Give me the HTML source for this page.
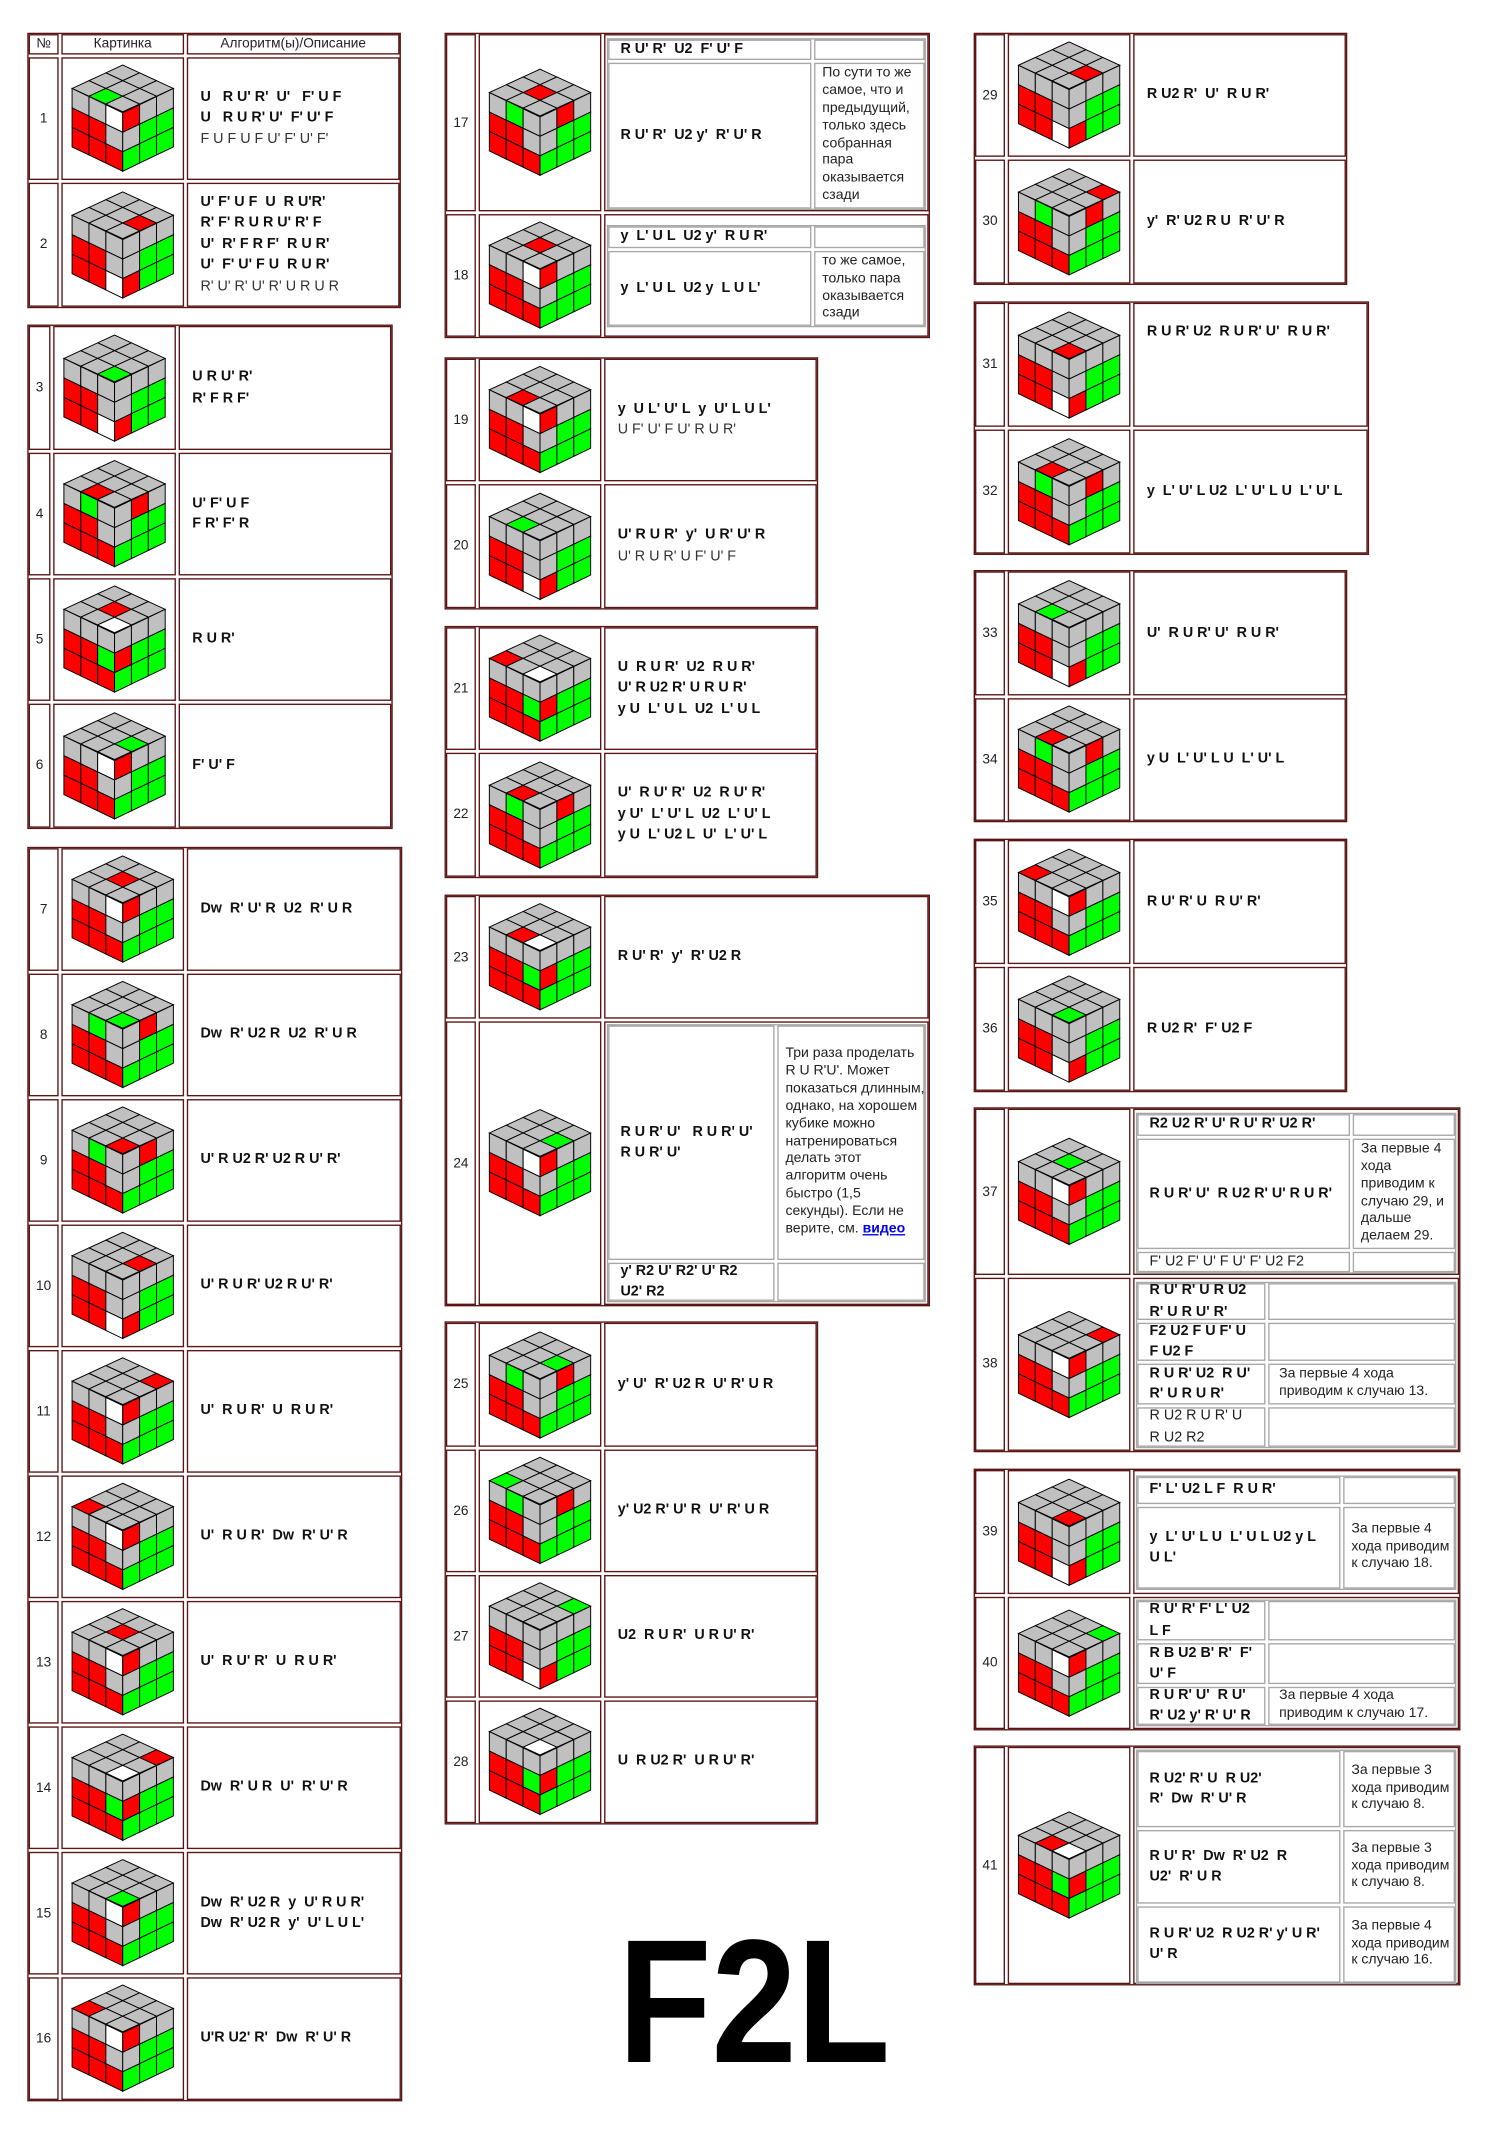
<!DOCTYPE html>
<html><head><meta charset="utf-8">
<style>
html,body{margin:0;padding:0;background:#fff;}
#wrap{position:relative;width:1500px;height:2150px;overflow:hidden;background:#fff;}
#c{position:absolute;left:0;top:0;width:1100px;height:1577px;transform:scale(1.363636);transform-origin:0 0;font-family:"Liberation Sans",Arial,sans-serif;color:#000;}
.ob{position:absolute;border:1.3px solid #5a1515;box-sizing:border-box;}
.cl{position:absolute;border:1px solid #5a1515;box-sizing:border-box;}
.ic{position:absolute;border:1px solid #a8a8a8;box-sizing:border-box;}
.t{position:absolute;display:flex;align-items:center;box-sizing:border-box;}
.a{font-weight:bold;font-size:10.5px;line-height:15.5px;white-space:pre;color:#111;}
.n{font-size:10.5px;line-height:15.5px;white-space:pre;color:#222;}
.d{font-size:10.3px;line-height:12.9px;color:#222;}
.num{font-size:10px;color:#222;}
svg{position:absolute;}
#f2l{position:absolute;left:618px;top:1902px;font-family:"Liberation Sans",Arial,sans-serif;font-weight:bold;font-size:176px;line-height:200px;transform:scaleX(0.87);transform-origin:0 0;color:#000;}
</style></head><body>
<div id="wrap"><div id="c"></div><div id="f2l">F2L</div></div>
<script>
var C=document.getElementById('c');var H='';
function box(cls,x1,y1,x2,y2){H+='<div class="'+cls+'" style="left:'+x1+'px;top:'+y1+'px;width:'+(x2-x1)+'px;height:'+(y2-y1)+'px"></div>';}
function txt(x1,y1,x2,y2,html,cls,opt){opt=opt||{};var jc=opt.center?'justify-content:center;':'';var ai=opt.top?'align-items:flex-start;':'';
H+='<div class="t" style="left:'+x1+'px;top:'+y1+'px;width:'+(x2-x1)+'px;height:'+(y2-y1)+'px;'+jc+ai+'padding-left:'+(opt.pl!=null?opt.pl:10)+'px;padding-top:'+(opt.pt||0)+'px"><div class="'+cls+'">'+html+'</div></div>';}
var seed=7;function rnd(){seed=(seed*9301+49297)%233280;return seed/233280;}
function cube(cx,cy){
 var T=[52,0],L=[0,24],Cc=[52,49],R=[104,24];
 var s='<svg style="left:'+(cx-38)+'px;top:'+(cy-40)+'px" width="76" height="80" viewBox="-1 -1 106 112">';
 var G='#c0c0c0',RD='#ff0000',GR='#00ff00',W='#ffffff';
 var top=[],lf=[],rf=[];
 for(var i=0;i<9;i++){top.push(G);}
 for(var r=0;r<3;r++)for(var c=0;c<3;c++){lf.push((r==2||(r==1&&c<2))?RD:G);rf.push((r==2||(r==1&&c>0))?GR:G);}
 var k=Math.floor(rnd()*6);
 var tp=[8,5,7,4,2,6][k];top[tp]=rnd()<0.5?RD:GR;
 var m=Math.floor(rnd()*4);
 if(m==0){lf[2]=W;rf[0]=RD;}
 else if(m==1){lf[5]=GR;rf[3]=RD;top[8]=W;}
 else if(m==2){lf[8]=W;rf[6]=RD;}
 else {rf[1]=RD;lf[1]=GR;}
 function P(p){return p[0].toFixed(2)+','+p[1].toFixed(2);}
 function poly(o,u,v,cols){var out='';for(var r=0;r<3;r++)for(var c=0;c<3;c++){
  var pts=[[c,r],[c+1,r],[c+1,r+1],[c,r+1]].map(function(q){return [o[0]+u[0]*q[0]+v[0]*q[1],o[1]+u[1]*q[0]+v[1]*q[1]];});
  out+='<polygon points="'+pts.map(P).join(' ')+'" fill="'+cols[r*3+c]+'" stroke="#000" stroke-width="1"/>';}return out;}
 s+=poly(T,[(R[0]-T[0])/3,(R[1]-T[1])/3],[(L[0]-T[0])/3,(L[1]-T[1])/3],top);
 s+=poly(L,[(Cc[0]-L[0])/3,(Cc[1]-L[1])/3],[0,20],lf);
 s+=poly(Cc,[(R[0]-Cc[0])/3,(R[1]-Cc[1])/3],[0,20],rf);
 s+='</svg>';H+=s;}
function table(x1,y1,x2,y2,cols,rows,data){
 box('ob',x1,y1,x2,y2);
 for(var j=0;j<rows.length-1;j++){
  var ya=rows[j]+1,yb=rows[j+1]-1;var dd=data[j];
  for(var i=0;i<3;i++){box('cl',cols[i]+1,ya,cols[i+1]-1,yb);}
  if(dd.hdr){txt(cols[0]+1,ya,cols[1]-1,yb,'№','num',{center:1,pl:0});txt(cols[1]+1,ya,cols[2]-1,yb,'Картинка','num',{center:1,pl:0});txt(cols[2]+1,ya,cols[3]-1,yb,'Алгоритм(ы)/Описание','num',{center:1,pl:0});continue;}
  txt(cols[0]+1,ya,cols[1]-1,yb,dd.n,'num',{center:1,pl:0});
  cube((cols[1]+cols[2])/2,(ya+yb)/2);
  if(dd.inner){dd.inner(cols[2]+1,ya,cols[3]-1,yb);}
  else{var h='';dd.a.forEach(function(l){h+=(l[0]=='~'?'<span style="font-weight:normal;color:#333">'+l.slice(1)+'</span>':l)+'\n';});
   txt(cols[2]+1,ya,cols[3]-1,yb,h.replace(/\n$/,''),'a',{top:dd.top,pt:dd.top?14:0});}
 }}
function a(n,arr,top){return {n:n,a:arr,top:top};}
table(20,24,294,226,[20,44,136,294],[24,41,133,226],[{hdr:1},a('1',['U   R U\' R\'  U\'   F\' U F','U   R U R\' U\'  F\' U\' F','~F U F U F U\' F\' U\' F\'']),a('2',['U\' F\' U F  U  R U\'R\'','R\' F\' R U R U\' R\' F','U\'  R\' F R F\'  R U R\'','U\'  F\' U\' F U  R U R\'','~R\' U\' R\' U\' R\' U R U R'])]);
table(20,238,288,608,[20,38,130,288],[238,331,423,515,608],[a('3',['U R U\' R\'','R\' F R F\'']),a('4',['U\' F\' U F','F R\' F\' R']),a('5',['R U R\'']),a('6',['F\' U\' F'])]);
var r7=[621];for(var i=1;i<=10;i++)r7.push(Math.round(621+i*92));
table(20,621,295,r7[10],[20,44,136,295],r7,[a('7',['Dw  R\' U\' R  U2  R\' U R']),a('8',['Dw  R\' U2 R  U2  R\' U R']),a('9',['U\' R U2 R\' U2 R U\' R\'']),a('10',['U\' R U R\' U2 R U\' R\'']),a('11',['U\'  R U R\'  U  R U R\'']),a('12',['U\'  R U R\'  Dw  R\' U\' R']),a('13',['U\'  R U\' R\'  U  R U R\'']),a('14',['Dw  R\' U R  U\'  R\' U\' R']),a('15',['Dw  R\' U2 R  y  U\' R U R\'','Dw  R\' U2 R  y\'  U\' L U L\'']),a('16',['U\'R U2\' R\'  Dw  R\' U\' R'])]);
function inner(ox1,oy1,ox2,oy2,split,rows){
 box('ic',ox1+2,rows[0][0]-1,ox2-2,rows[rows.length-1][1]+1);
 rows.forEach(function(r){box('ic',ox1+3,r[0],split,r[1]);box('ic',split+2,r[0],ox2-3,r[1]);
  if(r[2])txt(ox1+3,r[0],split,r[1],r[2],r[4]?'n':'a',{pl:9});
  if(r[3])txt(split+2,r[0],ox2-3,r[1],r[3],'d',{pl:r[5]!=null?r[5]:6});});}
table(326,24,682,248,[326,350,442,682],[24,156,248],[
 {n:'17',inner:function(x1,y1,x2,y2){inner(x1,y1,x2,y2,595,[[29,44,'R U\' R\'  U2  F\' U\' F',''],[46,153,'R U\' R\'  U2 y\'  R\' U\' R','По сути то же самое, что и предыдущий, только здесь собранная пара оказывается сзади']]);}},
 {n:'18',inner:function(x1,y1,x2,y2){inner(x1,y1,x2,y2,595,[[166,182,'y  L\' U L  U2 y\'  R U R\'',''],[184,239,'y  L\' U L  U2 y  L U L\'','то же самое, только пара оказывается сзади']]);}}]);
table(326,262,600,447,[326,350,442,600],[262,354,447],[a('19',['y  U L\' U\' L  y  U\' L U L\'','~U F\' U\' F U\' R U R\'']),a('20',['U\' R U R\'  y\'  U R\' U\' R','~U\' R U R\' U F\' U\' F'])]);
table(326,459,600,644,[326,350,442,600],[459,551,644],[a('21',['U  R U R\'  U2  R U R\'','U\' R U2 R\' U R U R\'','y U  L\' U L  U2  L\' U L']),a('22',['U\'  R U\' R\'  U2  R U\' R\'','y U\'  L\' U\' L  U2  L\' U\' L','y U  L\' U2 L  U\'  L\' U\' L'])]);
table(326,656,682,958,[326,350,442,682],[656,748,958],[a('23',['R U\' R\'  y\'  R\' U2 R']),
 {n:'24',inner:function(x1,y1,x2,y2){inner(x1,y1,x2,y2,568,[[752,924,'R U R\' U\'   R U R\' U\'\nR U R\' U\'','Три раза проделать  R U R\'U\'. Может показаться длинным,  однако, на хорошем  кубике можно натренироваться делать  этот алгоритм  очень быстро (1,5 секунды). Если не верите,  см. <u style="color:#0000ee;font-weight:bold">видео</u>'],[926,954,'y\' R2 U\' R2\' U\' R2\nU2\' R2','']]);}}]);
table(326,969,600,1338,[326,350,442,600],[969,1062,1154,1246,1338],[a('25',['y\' U\'  R\' U2 R  U\' R\' U R']),a('26',['y\' U2 R\' U\' R  U\' R\' U R']),a('27',['U2  R U R\'  U R U\' R\'']),a('28',['U  R U2 R\'  U R U\' R\''])]);
table(714,24,988,209,[714,738,830,988],[24,116,209],[a('29',['R U2 R\'  U\'  R U R\'']),a('30',['y\'  R\' U2 R U  R\' U\' R'])]);
table(714,221,1004,407,[714,738,830,1004],[221,314,407],[a('31',['R U R\' U2  R U R\' U\'  R U R\''],1),a('32',['y  L\' U\' L U2  L\' U\' L U  L\' U\' L'])]);
table(714,418,988,603,[714,738,830,988],[418,511,603],[a('33',['U\'  R U R\' U\'  R U R\'']),a('34',['y U  L\' U\' L U  L\' U\' L'])]);
table(714,615,988,801,[714,738,830,988],[615,708,801],[a('35',['R U\' R\' U  R U\' R\'']),a('36',['R U2 R\'  F\' U2 F'])]);
table(714,812,1071,1065,[714,738,830,1071],[812,936,1065],[
 {n:'37',inner:function(x1,y1,x2,y2){inner(x1,y1,x2,y2,990,[[817,833,'R2 U2 R\' U\' R U\' R\' U2 R\'',''],[835,916,'R U R\' U\'  R U2 R\' U\' R U R\'','За первые 4 хода приводим к случаю 29, и дальше делаем 29.'],[918,933,'F\' U2 F\' U\' F U\' F\' U2 F2','',1]]);}},
 {n:'38',inner:function(x1,y1,x2,y2){inner(x1,y1,x2,y2,928,[[941,968,'R U\' R\' U R U2\nR\' U R U\' R\'',''],[970,998,'F2 U2 F U F\' U\nF U2 F',''],[1000,1030,'R U R\' U2  R U\'\nR\' U R U R\'','За первые 4 хода приводим  к случаю 13.',0,8],[1032,1061,'R U2 R U R\' U\nR U2 R2','',1]]);}}]);
table(714,1077,1071,1269,[714,738,830,1071],[1077,1170,1269],[
 {n:'39',inner:function(x1,y1,x2,y2){inner(x1,y1,x2,y2,983,[[1083,1103,'F\' L\' U2 L F  R U R\'',''],[1105,1165,'y  L\' U\' L U  L\' U L U2 y L\nU L\'','За первые 4 хода приводим  к случаю 18.']]);}},
 {n:'40',inner:function(x1,y1,x2,y2){inner(x1,y1,x2,y2,928,[[1174,1203,'R U\' R\' F\' L\' U2\nL F',''],[1205,1235,'R B U2 B\' R\'  F\'\nU\' F',''],[1237,1265,'R U R\' U\'  R U\'\nR\' U2 y\' R\' U\' R','За первые 4 хода приводим  к случаю 17.',0,8]]);}}]);
table(714,1280,1071,1456,[714,738,830,1071],[1280,1456],[
 {n:'41',inner:function(x1,y1,x2,y2){inner(x1,y1,x2,y2,983,[[1284,1340,'R U2\' R\' U  R U2\'\nR\'  Dw  R\' U\' R','За первые 3 хода приводим к случаю 8.'],[1342,1396,'R U\' R\'  Dw  R\' U2  R\nU2\'  R\' U R','За первые 3 хода приводим к случаю 8.'],[1398,1454,'R U R\' U2  R U2 R\' y\' U R\'\nU\' R','За первые 4 хода приводим к случаю 16.']]);}}]);
C.innerHTML=H;
</script>
</body></html>
